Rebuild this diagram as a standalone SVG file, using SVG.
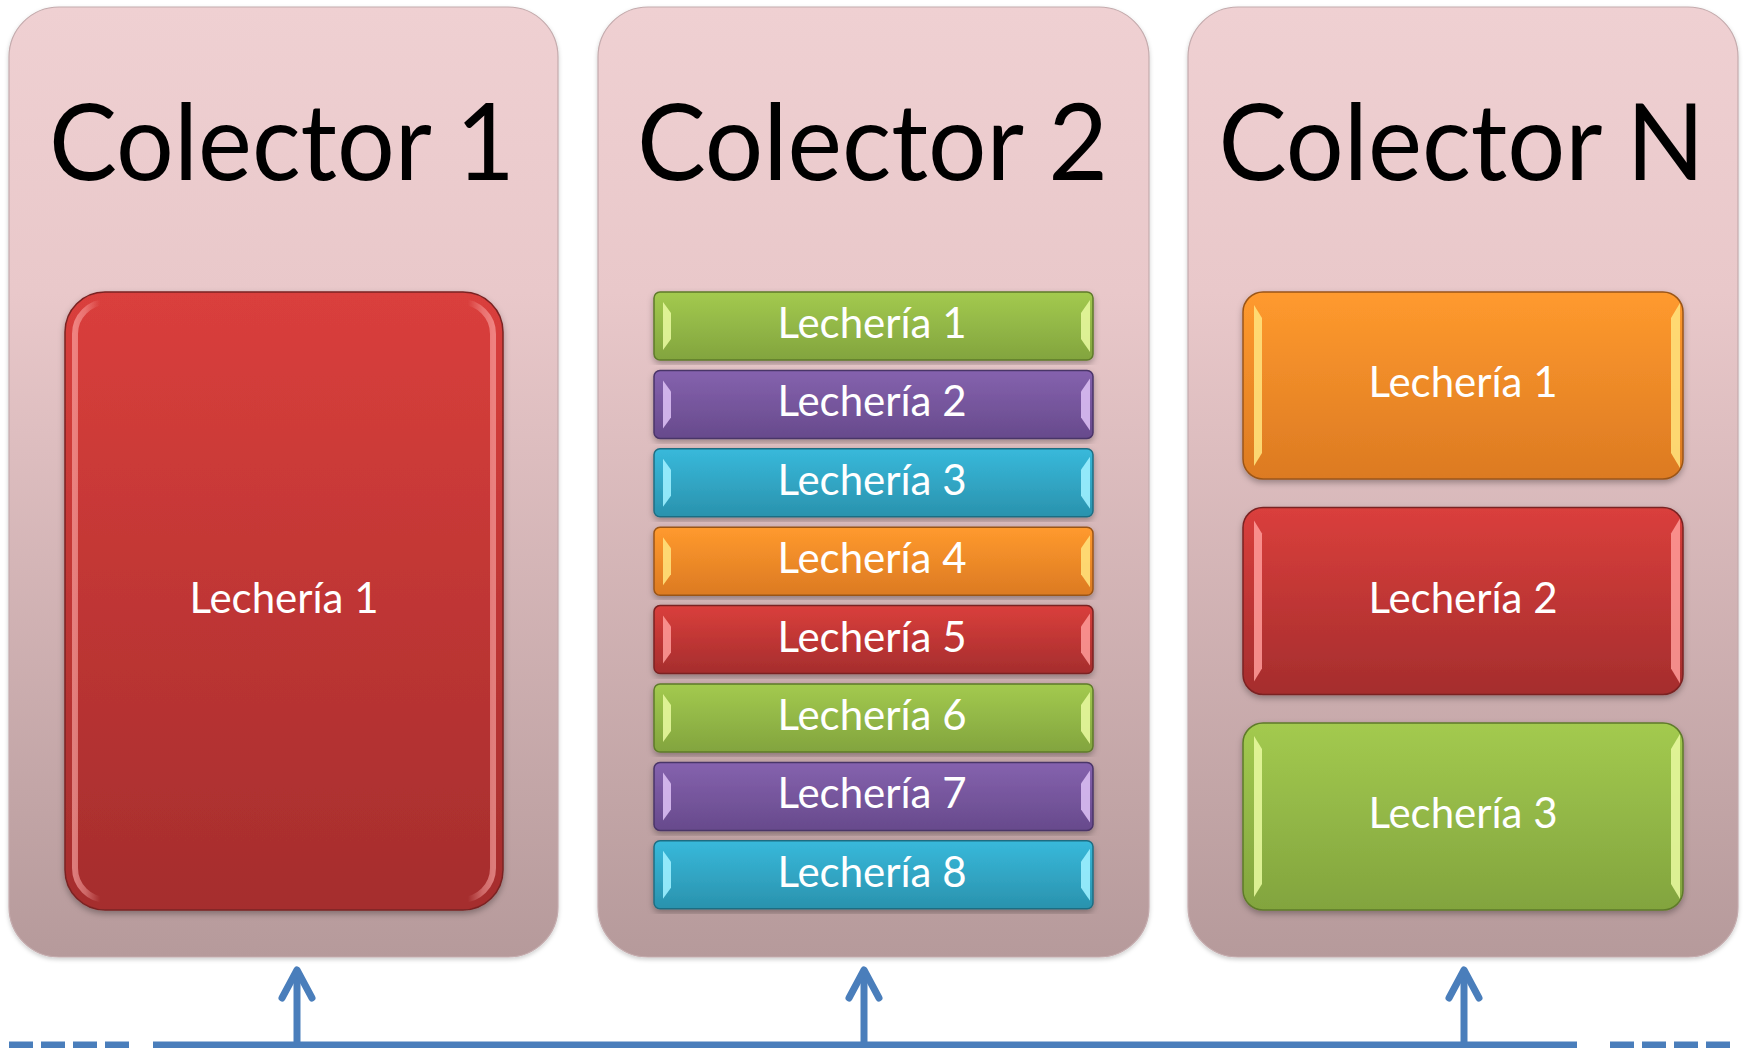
<svg xmlns="http://www.w3.org/2000/svg" width="1745" height="1048" viewBox="0 0 1745 1048">
  <defs>
    <linearGradient id="gPanel" x1="0" y1="0" x2="0" y2="1">
      <stop offset="0" stop-color="#EFD0D2"/>
      <stop offset="0.3" stop-color="#E9C8CA"/>
      <stop offset="1" stop-color="#B69A9B"/>
    </linearGradient>
    <linearGradient id="gRed" x1="0" y1="0" x2="0" y2="1">
      <stop offset="0" stop-color="#DA3F3C"/>
      <stop offset="1" stop-color="#A52D2D"/>
    </linearGradient>
    <linearGradient id="gOrange" x1="0" y1="0" x2="0" y2="1">
      <stop offset="0" stop-color="#FF9A2E"/>
      <stop offset="1" stop-color="#DC7A22"/>
    </linearGradient>
    <linearGradient id="gGreen" x1="0" y1="0" x2="0" y2="1">
      <stop offset="0" stop-color="#A3CA4F"/>
      <stop offset="1" stop-color="#82A43E"/>
    </linearGradient>
    <linearGradient id="gPurple" x1="0" y1="0" x2="0" y2="1">
      <stop offset="0" stop-color="#8562AE"/>
      <stop offset="1" stop-color="#674A8C"/>
    </linearGradient>
    <linearGradient id="gCyan" x1="0" y1="0" x2="0" y2="1">
      <stop offset="0" stop-color="#38B9DB"/>
      <stop offset="1" stop-color="#2A92AD"/>
    </linearGradient>
    <linearGradient id="gSide" x1="0" y1="0" x2="1" y2="0">
      <stop offset="0" stop-color="#FFB0AE" stop-opacity="0.6"/>
      <stop offset="0.025" stop-color="#FFB0AE" stop-opacity="0.45"/>
      <stop offset="0.06" stop-color="#FFB0AE" stop-opacity="0"/>
      <stop offset="0.94" stop-color="#FFB0AE" stop-opacity="0"/>
      <stop offset="0.975" stop-color="#FFB0AE" stop-opacity="0.45"/>
      <stop offset="1" stop-color="#FFB0AE" stop-opacity="0.6"/>
    </linearGradient>
    <filter id="shadow" x="-5%" y="-5%" width="110%" height="112%">
      <feDropShadow dx="0" dy="3" stdDeviation="3" flood-color="#000" flood-opacity="0.3"/>
    </filter>
    <filter id="pshadow" x="-3%" y="-3%" width="106%" height="106%">
      <feDropShadow dx="0" dy="2" stdDeviation="2" flood-color="#000" flood-opacity="0.2"/>
    </filter>
  </defs>
  <style>
    .panel { fill: url(#gPanel); stroke: #C4ABAD; stroke-width: 1.2; filter: url(#pshadow); }
    .title { font-family: Lato, "Liberation Sans", sans-serif; font-size: 107px; fill: #000; text-anchor: middle; }
    .lbl { font-family: Lato, "Liberation Sans", sans-serif; font-size: 42px; fill: #fff; text-anchor: middle; }
    .box { filter: url(#shadow); stroke-width: 1.5; }
    .red { fill: url(#gRed); stroke: #7A2323; }
    .orange { fill: url(#gOrange); stroke: #9A5518; }
    .green { fill: url(#gGreen); stroke: #5E7A2A; }
    .purple { fill: url(#gPurple); stroke: #4A3468; }
    .cyan { fill: url(#gCyan); stroke: #1F6D82; }
    .side { fill: none; stroke: url(#gSide); stroke-width: 6; }
    .hlRed { fill: #FF9C9A; opacity: 0.85; }
    .hlOrange { fill: #FFE07A; opacity: 0.9; }
    .hlGreen { fill: #E6F79C; opacity: 0.9; }
    .hlPurple { fill: #D9BDF2; opacity: 0.9; }
    .hlCyan { fill: #9CEFFF; opacity: 0.9; }
    .conn { stroke: #4A7EBB; stroke-width: 7; fill: none; }
    .head { stroke: #4A7EBB; stroke-width: 7; fill: none; stroke-linecap: round; stroke-linejoin: round; }
  </style>

  <!-- Colector 1 -->
  <g id="colector1">
    <rect class="panel" x="9" y="7" width="549" height="950" rx="50"/>
    <text class="title" x="282" y="180" textLength="466" lengthAdjust="spacingAndGlyphs">Colector 1</text>
  </g>
  <g id="c1-lecheria1">
    <rect class="box red" x="65" y="292" width="438" height="618" rx="40"/>
    <rect class="side" x="75" y="302" width="418" height="598" rx="32"/>
    <text class="lbl" x="284" y="613">Lechería 1</text>
  </g>

  <!-- Colector 2 -->
  <g id="colector2">
    <rect class="panel" x="598" y="7" width="551" height="950" rx="50"/>
    <text class="title" x="872.5" y="180" textLength="471" lengthAdjust="spacingAndGlyphs">Colector 2</text>
  </g>
  <g id="c2-lecheria1">
    <rect class="box green" x="654" y="292" width="439" height="68" rx="6"/>
    <polygon class="hlGreen" points="663,302 671,313 671,339 663,350"/>
    <polygon class="hlGreen" points="1090,300 1081,313 1081,339 1090,352"/>
    <text class="lbl" x="872" y="338">Lechería 1</text>
  </g>
  <g id="c2-lecheria2">
    <rect class="box purple" x="654" y="370.4" width="439" height="68" rx="6"/>
    <polygon class="hlPurple" points="663,380.4 671,391.4 671,417.4 663,428.4"/>
    <polygon class="hlPurple" points="1090,378.4 1081,391.4 1081,417.4 1090,430.4"/>
    <text class="lbl" x="872" y="416.4">Lechería 2</text>
  </g>
  <g id="c2-lecheria3">
    <rect class="box cyan" x="654" y="448.8" width="439" height="68" rx="6"/>
    <polygon class="hlCyan" points="663,458.8 671,469.8 671,495.8 663,506.8"/>
    <polygon class="hlCyan" points="1090,456.8 1081,469.8 1081,495.8 1090,508.8"/>
    <text class="lbl" x="872" y="494.8">Lechería 3</text>
  </g>
  <g id="c2-lecheria4">
    <rect class="box orange" x="654" y="527.2" width="439" height="68" rx="6"/>
    <polygon class="hlOrange" points="663,537.2 671,548.2 671,574.2 663,585.2"/>
    <polygon class="hlOrange" points="1090,535.2 1081,548.2 1081,574.2 1090,587.2"/>
    <text class="lbl" x="872" y="573.2">Lechería 4</text>
  </g>
  <g id="c2-lecheria5">
    <rect class="box red" x="654" y="605.6" width="439" height="68" rx="6"/>
    <polygon class="hlRed" points="663,615.6 671,626.6 671,652.6 663,663.6"/>
    <polygon class="hlRed" points="1090,613.6 1081,626.6 1081,652.6 1090,665.6"/>
    <text class="lbl" x="872" y="651.6">Lechería 5</text>
  </g>
  <g id="c2-lecheria6">
    <rect class="box green" x="654" y="684" width="439" height="68" rx="6"/>
    <polygon class="hlGreen" points="663,694 671,705 671,731 663,742"/>
    <polygon class="hlGreen" points="1090,692 1081,705 1081,731 1090,744"/>
    <text class="lbl" x="872" y="730">Lechería 6</text>
  </g>
  <g id="c2-lecheria7">
    <rect class="box purple" x="654" y="762.4" width="439" height="68" rx="6"/>
    <polygon class="hlPurple" points="663,772.4 671,783.4 671,809.4 663,820.4"/>
    <polygon class="hlPurple" points="1090,770.4 1081,783.4 1081,809.4 1090,822.4"/>
    <text class="lbl" x="872" y="808.4">Lechería 7</text>
  </g>
  <g id="c2-lecheria8">
    <rect class="box cyan" x="654" y="840.8" width="439" height="68" rx="6"/>
    <polygon class="hlCyan" points="663,850.8 671,861.8 671,887.8 663,898.8"/>
    <polygon class="hlCyan" points="1090,848.8 1081,861.8 1081,887.8 1090,900.8"/>
    <text class="lbl" x="872" y="886.8">Lechería 8</text>
  </g>

  <!-- Colector N -->
  <g id="colectorN">
    <rect class="panel" x="1188" y="7" width="550" height="950" rx="50"/>
    <text class="title" x="1461.5" y="180" textLength="486" lengthAdjust="spacingAndGlyphs">Colector N</text>
  </g>
  <g id="cN-lecheria1">
    <rect class="box orange" x="1243" y="292" width="440" height="187" rx="20"/>
    <polygon class="hlOrange" points="1254,305 1262,318 1262,453 1254,466"/>
    <polygon class="hlOrange" points="1680,303 1671,318 1671,453 1680,468"/>
    <text class="lbl" x="1463" y="397">Lechería 1</text>
  </g>
  <g id="cN-lecheria2">
    <rect class="box red" x="1243" y="507.5" width="440" height="187" rx="20"/>
    <polygon class="hlRed" points="1254,520.5 1262,533.5 1262,668.5 1254,681.5"/>
    <polygon class="hlRed" points="1680,518.5 1671,533.5 1671,668.5 1680,683.5"/>
    <text class="lbl" x="1463" y="612.5">Lechería 2</text>
  </g>
  <g id="cN-lecheria3">
    <rect class="box green" x="1243" y="723" width="440" height="187" rx="20"/>
    <polygon class="hlGreen" points="1254,736 1262,749 1262,884 1254,897"/>
    <polygon class="hlGreen" points="1680,734 1671,749 1671,884 1680,899"/>
    <text class="lbl" x="1463" y="828">Lechería 3</text>
  </g>

  <!-- Connectors -->
  <g id="connectors">
    <line class="conn" x1="9" y1="1045" x2="129" y2="1045" stroke-dasharray="24 8"/>
    <line class="conn" x1="153" y1="1045" x2="1577" y2="1045"/>
    <line class="conn" x1="1610" y1="1045" x2="1730" y2="1045" stroke-dasharray="24 8"/>
    <line class="conn" x1="297" y1="1045" x2="297" y2="970"/>
    <polyline class="head" points="282,998 297,970 312,998"/>
    <line class="conn" x1="864" y1="1045" x2="864" y2="970"/>
    <polyline class="head" points="849,998 864,970 879,998"/>
    <line class="conn" x1="1464" y1="1045" x2="1464" y2="970"/>
    <polyline class="head" points="1449,998 1464,970 1479,998"/>
  </g>
</svg>
